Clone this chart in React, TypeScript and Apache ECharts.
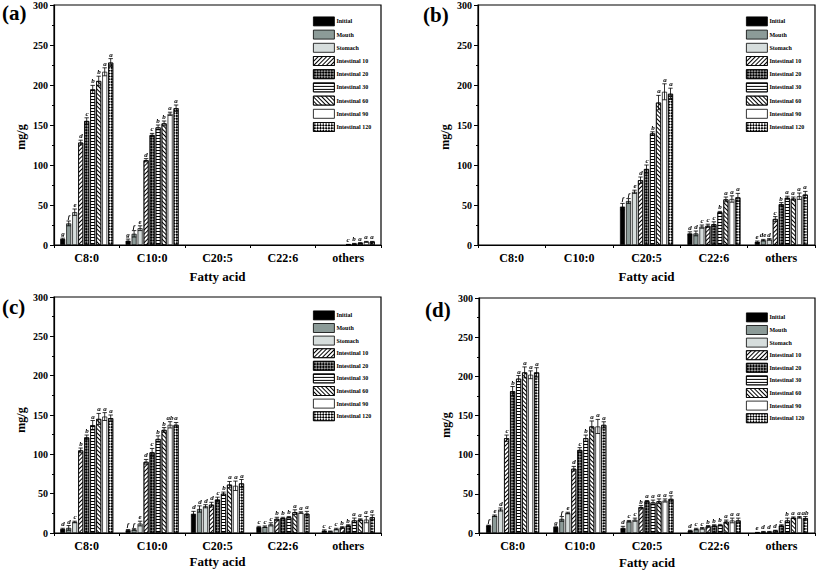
import React, { useEffect, useRef } from "react";
import * as echarts from "echarts";

const categories = ["C8:0", "C10:0", "C20:5", "C22:6", "others"];
const seriesNames = ["Initial", "Mouth", "Stomach", "Intestinal 10", "Intestinal 20", "Intestinal 30", "Intestinal 60", "Intestinal 90", "Intestinal 120"];
const yTicks = [0, 50, 100, 150, 200, 250, 300];
const panelTags = ["(a)", "(b)", "(c)", "(d)"];

// values[series][category]
const valuesA = [
  [7.5, 5.4, null, null, null],
  [27, 14, null, null, null],
  [41, 21, null, null, null],
  [128, 106, null, null, null],
  [155, 137.5, null, null, 0.5],
  [194.5, 147, null, null, 1.5],
  [205, 152, null, null, 2.5],
  [216.5, 164, null, null, 4],
  [228, 171, null, null, 4],
];
const errorsA = [
  [1, 2, 0, 0, 0],
  [3, 4, 0, 0, 0],
  [4, 3, 0, 0, 0],
  [3, 2, 0, 0, 0],
  [4, 2, 0, 0, 0.3],
  [5, 3, 0, 0, 0.5],
  [6, 3, 0, 0, 0.5],
  [5, 2, 0, 0, 0.5],
  [5, 4, 0, 0, 0.5],
];
const lettersA = [
  ["g", "g", "", "", ""],
  ["f", "f", "", "", ""],
  ["e", "e", "", "", ""],
  ["d", "d", "", "", ""],
  ["c", "c", "", "", "c"],
  ["b", "b", "", "", "b"],
  ["b", "b", "", "", "a"],
  ["a", "a", "", "", "a"],
  ["a", "a", "", "", "a"],
];

const valuesB = [
  [null, null, 48, 14.5, 4],
  [null, null, 55, 14.5, 6],
  [null, null, 66.5, 23, 7],
  [null, null, 81, 24, 32.5],
  [null, null, 95, 26, 51],
  [null, null, 139.5, 41, 59],
  [null, null, 178, 57, 58],
  [null, null, 191.5, 57.5, 61],
  [null, null, 189, 59.5, 63],
];
const errorsB = [
  [0, 0, 4, 2, 1],
  [0, 0, 3, 3, 1],
  [0, 0, 2, 2, 1],
  [0, 0, 4, 2, 3],
  [0, 0, 5, 3, 2],
  [0, 0, 2, 1, 2],
  [0, 0, 9, 3, 2],
  [0, 0, 10, 4, 4],
  [0, 0, 7, 5, 4],
];
const lettersB = [
  ["", "", "f", "d", "e"],
  ["", "", "f", "d", "de"],
  ["", "", "e", "c", "d"],
  ["", "", "d", "c", "c"],
  ["", "", "c", "c", "b"],
  ["", "", "b", "b", "a"],
  ["", "", "a", "a", "a"],
  ["", "", "a", "a", "a"],
  ["", "", "a", "a", "a"],
];

const valuesC = [
  [5, 3.5, 24.5, 7.5, 3],
  [6.5, 4.5, 30.5, 8, 2],
  [14, 12, 34, 11, 5],
  [105, 90.5, 36, 18, 7],
  [121.5, 102.5, 42.5, 19, 9.5],
  [137, 119.5, 50, 20, 16],
  [145, 131, 61.5, 26.5, 17],
  [148, 137.5, 60, 26, 17],
  [146, 137.5, 63, 24.5, 20],
];
const errorsC = [
  [1, 1, 3, 1, 1],
  [3, 1, 4, 1, 0.5],
  [1, 3, 2, 2, 1],
  [3, 3, 3, 2, 1],
  [3, 5, 3, 1, 1],
  [6, 4, 2, 1, 3],
  [7, 3, 4, 3, 1],
  [5, 4, 6, 1, 4],
  [4, 3, 5, 3, 3],
];
const lettersC = [
  ["d", "f", "d", "c", "c"],
  ["d", "f", "d", "c", "c"],
  ["c", "e", "d", "c", "c"],
  ["b", "d", "d", "b", "b"],
  ["b", "c", "c", "b", "b"],
  ["a", "b", "b", "b", "a"],
  ["a", "b", "a", "a", "a"],
  ["a", "ab", "a", "a", "a"],
  ["a", "a", "a", "a", "a"],
];

const valuesD = [
  [9.5, 7.5, 6.5, 3, 0.5],
  [22, 18, 15, 5, 1.5],
  [30, 25.5, 17, 6, 1.5],
  [121, 82, 33, 8.5, 3],
  [181, 106, 40.5, 9.5, 9.5],
  [197, 121, 39, 10, 16],
  [205, 136, 40.5, 14.5, 19.5],
  [202, 136, 41.5, 16, 20],
  [205, 138, 43.5, 16, 19],
];
const errorsD = [
  [0.5, 0.5, 2, 0.5, 0.3],
  [1, 3, 1, 1, 0.5],
  [2, 1, 2, 1, 0.5],
  [4, 3, 2, 1, 0.5],
  [6, 3, 1, 1, 1],
  [4, 4, 3, 1, 3],
  [7, 7, 3, 2, 1],
  [5, 9, 2, 3, 1],
  [6, 4, 4, 3, 2],
];
const lettersD = [
  ["f", "g", "d", "d", "e"],
  ["e", "f", "c", "c", "d"],
  ["d", "e", "c", "c", "d"],
  ["c", "d", "b", "b", "d"],
  ["b", "c", "a", "b", "c"],
  ["a", "b", "a", "b", "b"],
  ["a", "a", "a", "a", "a"],
  ["a", "a", "a", "a", "a"],
  ["a", "a", "a", "a", "ab"],
];

const panelValues = [valuesA, valuesB, valuesC, valuesD];
const panelErrors = [errorsA, errorsB, errorsC, errorsD];
const panelLetters = [lettersA, lettersB, lettersC, lettersD];

const FONT = "'Liberation Serif', 'Times New Roman', serif";
const BAR_W = 5;
const BAR_GAP = 1;

const grids = [
  { left: 54, top: 5, width: 327, height: 240 },
  { left: 478, top: 5, width: 337, height: 240 },
  { left: 54, top: 297, width: 327, height: 236 },
  { left: 479, top: 298, width: 336, height: 235 },
];
const legendPos = [
  { left: 308, top: 11.5, gap: 3.4 },
  { left: 741, top: 11.5, gap: 3.4 },
  { left: 308, top: 305.5, gap: 2.8 },
  { left: 741, top: 307.5, gap: 2.8 },
];
const tagPos = [
  { x: 2, y: 13 },
  { x: 423, y: 15 },
  { x: 2, y: 307 },
  { x: 425, y: 310 },
];
const xNameGap = [25, 25, 22, 23];
const yNameShift = [24, 24, 10, 19];

const seriesStyles: any[] = [
  { color: "#000" },
  { color: "#8c9b98" },
  { color: "#d6dddc" },
  { color: "#fff", decal: { symbol: "rect", color: "#000", dashArrayX: [1, 0], dashArrayY: [1, 1.6], rotation: -Math.PI / 4 } },
  { color: "#9a9a9a", decal: { symbol: "rect", color: "#000", dashArrayX: [[1.2, 1.2], [0, 1.2, 1.2, 0]], dashArrayY: [1.2, 0], rotation: Math.PI / 4 } },
  { color: "#fff", decal: { symbol: "rect", color: "#000", dashArrayX: [1, 0], dashArrayY: [1, 1.8], rotation: 0 } },
  { color: "#fff", decal: { symbol: "rect", color: "#000", dashArrayX: [1, 0], dashArrayY: [1, 1.6], rotation: Math.PI / 4 } },
  { color: "#fff" },
  { color: "#fff", decal: { symbol: "rect", color: "#000", dashArrayX: [[1.6, 1.6], [0, 1.6, 1.6, 0]], dashArrayY: [1.6, 0], rotation: Math.PI / 4 } },
];

function makeRender(letters: string[]) {
  return (params: any, api: any) => {
    const cat = api.value(0);
    const s = api.value(1);
    const v = api.value(2);
    const e = api.value(3);
    const total = 9 * BAR_W + 8 * BAR_GAP;
    const c = api.coord([cat, v]);
    const x = c[0] - total / 2 + s * (BAR_W + BAR_GAP) + BAR_W / 2;
    const yT = api.coord([cat, v + e])[1];
    const yB = api.coord([cat, Math.max(v - e, 0)])[1];
    const children: any[] = [];
    const ls = { stroke: "#000", lineWidth: 0.8 };
    if (e > 0) {
      children.push({ type: "line", shape: { x1: x, y1: yB, x2: x, y2: yT }, style: ls });
      children.push({ type: "line", shape: { x1: x - 2.2, y1: yT, x2: x + 2.2, y2: yT }, style: ls });
      children.push({ type: "line", shape: { x1: x - 2.2, y1: yB, x2: x + 2.2, y2: yB }, style: ls });
    }
    const lbl = letters[params.dataIndex];
    if (lbl) {
      children.push({
        type: "text",
        x: Math.round(x),
        y: Math.round(yT - 1),
        style: {
          text: lbl,
          align: "center",
          verticalAlign: "bottom",
          fontFamily: FONT,
          fontStyle: "italic",
          fontWeight: "bold",
          fontSize: 7,
          fill: "#000",
          textShadowColor: "rgba(0,0,0,0.05)",
          textShadowBlur: 0.5,
        },
      });
    }
    return { type: "group", children };
  };
}

function buildOption() {
  const grid: any[] = [];
  const xAxis: any[] = [];
  const yAxis: any[] = [];
  const legend: any[] = [];
  const series: any[] = [];
  const graphic: any[] = [];
  for (let p = 0; p < 4; p++) {
    grid.push({ ...grids[p], show: true, borderColor: "#000", borderWidth: 1.2, backgroundColor: "transparent" });
    xAxis.push({
      type: "category",
      gridIndex: p,
      data: categories,
      name: "Fatty acid",
      nameLocation: "middle",
      nameGap: xNameGap[p],
      nameTextStyle: { fontFamily: FONT, fontWeight: "bold", fontSize: 13, color: "#000" },
      axisLine: { lineStyle: { color: "#000", width: 1.2 } },
      axisTick: { show: true, interval: 0, length: 3, inside: false, lineStyle: { color: "#000", width: 1 } },
      axisLabel: { interval: 0, fontFamily: FONT, fontWeight: "bold", fontSize: 12, color: "#000", margin: 7 },
      splitLine: { show: false },
    });
    yAxis.push({
      type: "value",
      gridIndex: p,
      min: yTicks[0],
      max: yTicks[yTicks.length - 1],
      interval: 50,
      name: "mg/g",
      nameLocation: "middle",
      nameGap: 27,
      nameTextStyle: { fontFamily: FONT, fontWeight: "bold", fontSize: 12, color: "#000", padding: [0, yNameShift[p], 0, 0] },
      axisLine: { show: true, lineStyle: { color: "#000", width: 1.2 } },
      axisTick: { show: true, length: 4, lineStyle: { color: "#000", width: 1 } },
      minorTick: { show: true, splitNumber: 2, length: 2, lineStyle: { color: "#000", width: 1 } },
      axisLabel: { fontFamily: FONT, fontWeight: "bold", fontSize: 10, color: "#000", margin: 6 },
      splitLine: { show: false },
    });
    legend.push({
      orient: "vertical",
      left: legendPos[p].left,
      top: legendPos[p].top,
      itemWidth: 21,
      itemHeight: 9,
      itemGap: legendPos[p].gap,
      icon: "rect",
      selectedMode: false,
      data: seriesNames,
      itemStyle: { borderColor: "#000", borderWidth: 0.8 },
      textStyle: { fontFamily: FONT, fontWeight: "bold", fontSize: 6, color: "#000", padding: [0, 0, 0, -3] },
    });
    const vals = panelValues[p];
    const errs = panelErrors[p];
    const lets = panelLetters[p];
    for (let s = 0; s < 9; s++) {
      series.push({
        type: "bar",
        name: seriesNames[s],
        xAxisIndex: p,
        yAxisIndex: p,
        data: vals[s].map((v) => (v === null ? "-" : v)),
        barWidth: BAR_W,
        barGap: "20%",
        itemStyle: { ...seriesStyles[s], borderColor: "#000", borderWidth: 0.7 },
        emphasis: { disabled: true },
        z: 2,
      });
    }
    const ebData: any[] = [];
    const ebLetters: string[] = [];
    for (let s = 0; s < 9; s++) {
      for (let c = 0; c < categories.length; c++) {
        const v = vals[s][c];
        if (v === null) continue;
        ebData.push([c, s, v, errs[s][c]]);
        ebLetters.push(lets[s][c]);
      }
    }
    series.push({
      type: "custom",
      name: "errorbars" + p,
      xAxisIndex: p,
      yAxisIndex: p,
      data: ebData,
      itemStyle: { color: "#000" },
      renderItem: makeRender(ebLetters),
      z: 5,
      silent: true,
    });
    graphic.push({
      type: "text",
      left: tagPos[p].x,
      top: tagPos[p].y - 11,
      style: { text: panelTags[p], font: `bold 21px ${FONT}`, fill: "#000" },
    });
  }
  return {
    animation: false,
    backgroundColor: "#fff",
    textStyle: { fontFamily: FONT },
    grid,
    xAxis,
    yAxis,
    legend,
    series,
    graphic,
  };
}

export default function App() {
  const ref = useRef<HTMLDivElement>(null);
  useEffect(() => {
    if (!ref.current) return;
    const chart = echarts.init(ref.current, null, { renderer: "svg" });
    chart.setOption(buildOption() as any);
    return () => chart.dispose();
  }, []);
  return <div ref={ref} style={{ position: "fixed", left: 0, top: 0, width: 817, height: 571 }} />;
}
